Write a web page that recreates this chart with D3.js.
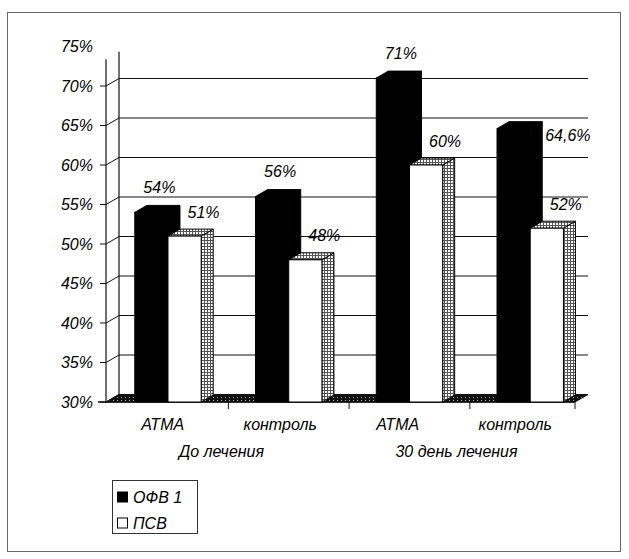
<!DOCTYPE html>
<html>
<head>
<meta charset="utf-8">
<script src="https://cdn.jsdelivr.net/npm/d3@7"></script>
<style>
  body { margin: 0; background: #fff; }
  text { font-family: "Liberation Sans", Arial, sans-serif; font-style: italic; font-size: 16px; fill: #000; }
</style>
</head>
<body>
<svg id="chart" width="629" height="559"></svg>
<script>
// ---- data ----
const categories = ["АТМА", "контроль", "АТМА", "контроль"];
const groups = ["До лечения", "30 день лечения"];
const series = ["ОФВ 1", "ПСВ"];
const ofv1 = [54, 56, 71, 64.6];
const psv = [51, 48, 60, 52];
const ofv1LabelPlacement = ["above", "above", "above", "right"];
const yTicks = [30, 35, 40, 45, 50, 55, 60, 65, 70, 75];
const yTickLabels = ["30%", "35%", "40%", "45%", "50%", "55%", "60%", "65%", "70%", "75%"];

// ---- layout ----
const svg = d3.select("#chart");
const DX = 13, DY = -7.5;      // depth of walls / floor
const BDX = 12, BDY = -7;      // depth of the columns
const floorL = 106, floorR = 575;
const wallTop = 73.4;          // walls stop just under the top tick

const y = d3.scaleLinear().domain([30, 75]).range([402, 46.5]);
const idx = d3.range(categories.length);
const xFront = d3.scaleBand().domain(idx).range([104, 574]);
const x = d3.scaleBand().domain(idx).range([107.6, 590.6]).paddingInner(0.45).paddingOuter(0.225);
const xs = d3.scaleBand().domain(series).range([0, x.bandwidth()]);
const fmt = v => String(v).replace(".", ",") + "%";

// ---- patterns ----
const defs = svg.append("defs");
const dots = defs.append("pattern").attr("id", "dots")
  .attr("width", 3).attr("height", 3).attr("patternUnits", "userSpaceOnUse");
dots.append("rect").attr("width", 3).attr("height", 3).attr("fill", "#555");
dots.append("rect").attr("x", 1).attr("y", 1).attr("width", 2).attr("height", 2).attr("fill", "#fff");
const floorPat = defs.append("pattern").attr("id", "floorPat")
  .attr("width", 4).attr("height", 3).attr("patternUnits", "userSpaceOnUse");
floorPat.append("rect").attr("width", 4).attr("height", 3).attr("fill", "#111");
floorPat.append("rect").attr("x", 1).attr("y", 1).attr("width", 1).attr("height", 1).attr("fill", "#aaa");

// ---- frame ----
svg.append("rect").attr("x", 7.5).attr("y", 12.5).attr("width", 613).attr("height", 539)
  .attr("fill", "none").attr("stroke", "#666").attr("stroke-width", 1);

const line = (x1, y1, x2, y2, w = 1) => svg.append("line")
  .attr("x1", x1).attr("y1", y1).attr("x2", x2).attr("y2", y2)
  .attr("stroke", "#111").attr("stroke-width", w);

// ---- floor ----
const y0 = y(30);
svg.append("path")
  .attr("d", `M${floorL},${y0}L${floorR},${y0}L${floorR + DX},${y0 + DY}L${floorL + DX},${y0 + DY}Z`)
  .attr("fill", "url(#floorPat)").attr("stroke", "#111").attr("stroke-width", 1);

// ---- back wall gridlines ----
yTicks.filter(v => v > 30 && v < wallTop).forEach(v => {
  line(floorL + DX, y(v) + DY, floorR + DX, y(v) + DY);
});
line(floorL + DX, y(wallTop) + DY, floorL + DX, y0 + DY, 1.2);

// ---- value axis (front) with side-wall ticks ----
line(floorL, y(wallTop), floorL, y0, 1.2);
yTicks.filter(v => v < wallTop).forEach(v => {
  line(floorL - 6, y(v), floorL, y(v));
  line(floorL, y(v), floorL + DX, y(v) + DY);
});
svg.append("g").selectAll("text").data(yTicks).join("text")
  .attr("x", 93).attr("y", d => y(d)).attr("dy", "0.35em")
  .attr("text-anchor", "end").text((d, i) => yTickLabels[i]);

// ---- floor front edge and category ticks ----
line(floorL - 8, y0, floorR, y0, 1.5);
idx.slice(1).forEach(i => {
  const bx = x(i) + x.bandwidth() / 2 - x.step() / 2;
  line(bx, y0, bx, y0 + 7);
});
line(floorR, y0, floorR, y0 + 7);

// ---- columns ----
function column(x0, w, v, dark) {
  const yt = y(v);
  const g = svg.append("g");
  const fillTop = dark ? "#000" : "url(#dots)";
  g.append("path")
    .attr("d", `M${x0 + w},${yt}L${x0 + w + BDX},${yt + BDY}L${x0 + w + BDX},${y0 + BDY}L${x0 + w},${y0}Z`)
    .attr("fill", fillTop).attr("stroke", "#000").attr("stroke-width", 1);
  g.append("path")
    .attr("d", `M${x0},${yt}L${x0 + BDX},${yt + BDY}L${x0 + w + BDX},${yt + BDY}L${x0 + w},${yt}Z`)
    .attr("fill", fillTop).attr("stroke", "#000").attr("stroke-width", 1);
  g.append("rect").attr("x", x0).attr("y", yt).attr("width", w).attr("height", y0 - yt)
    .attr("fill", dark ? "#000" : "#fff").attr("stroke", "#000").attr("stroke-width", 1);
}
idx.forEach(i => {
  column(x(i) + xs(series[0]), xs.bandwidth(), ofv1[i], true);
  column(x(i) + xs(series[1]), xs.bandwidth(), psv[i], false);
});

// ---- value labels ----
idx.forEach(i => {
  const bx = x(i) + xs(series[0]), w = xs.bandwidth();
  if (ofv1LabelPlacement[i] === "right") {
    svg.append("text").attr("x", bx + w + BDX + 3).attr("y", y(ofv1[i]) + 7).attr("dy", "0.35em")
      .text(fmt(ofv1[i]));
  } else {
    svg.append("text").attr("x", bx + w / 2 + 8).attr("y", y(ofv1[i]) - 25).attr("dy", "0.35em")
      .attr("text-anchor", "middle").text(fmt(ofv1[i]));
  }
  const wx = x(i) + xs(series[1]);
  svg.append("text").attr("x", wx + w / 2 + 19).attr("y", y(psv[i]) - 24).attr("dy", "0.35em")
    .attr("text-anchor", "middle").text(fmt(psv[i]));
});

// ---- category and group labels ----
svg.append("g").selectAll("text").data(idx).join("text")
  .attr("x", i => xFront(i) + xFront.bandwidth() / 2).attr("y", 424).attr("dy", "0.35em")
  .attr("text-anchor", "middle").text(i => categories[i]);
groups.forEach((gName, gi) => {
  const cx = (xFront(gi * 2) + xFront(gi * 2 + 1) + xFront.bandwidth()) / 2;
  svg.append("text").attr("x", cx).attr("y", 451).attr("dy", "0.35em")
    .attr("text-anchor", "middle").text(gName);
});

// ---- legend ----
const lg = svg.append("g");
lg.append("rect").attr("x", 112.5).attr("y", 480.5).attr("width", 85).attr("height", 53)
  .attr("fill", "#fff").attr("stroke", "#333").attr("stroke-width", 1);
series.forEach((s, i) => {
  const ly = 497 + i * 26;
  lg.append("rect").attr("x", 117.5).attr("y", ly - 5).attr("width", 10).attr("height", 10)
    .attr("fill", i === 0 ? "#000" : "#fff").attr("stroke", "#000").attr("stroke-width", 1);
  lg.append("text").attr("x", 133).attr("y", ly).attr("dy", "0.35em").text(s);
});
</script>
</body>
</html>
